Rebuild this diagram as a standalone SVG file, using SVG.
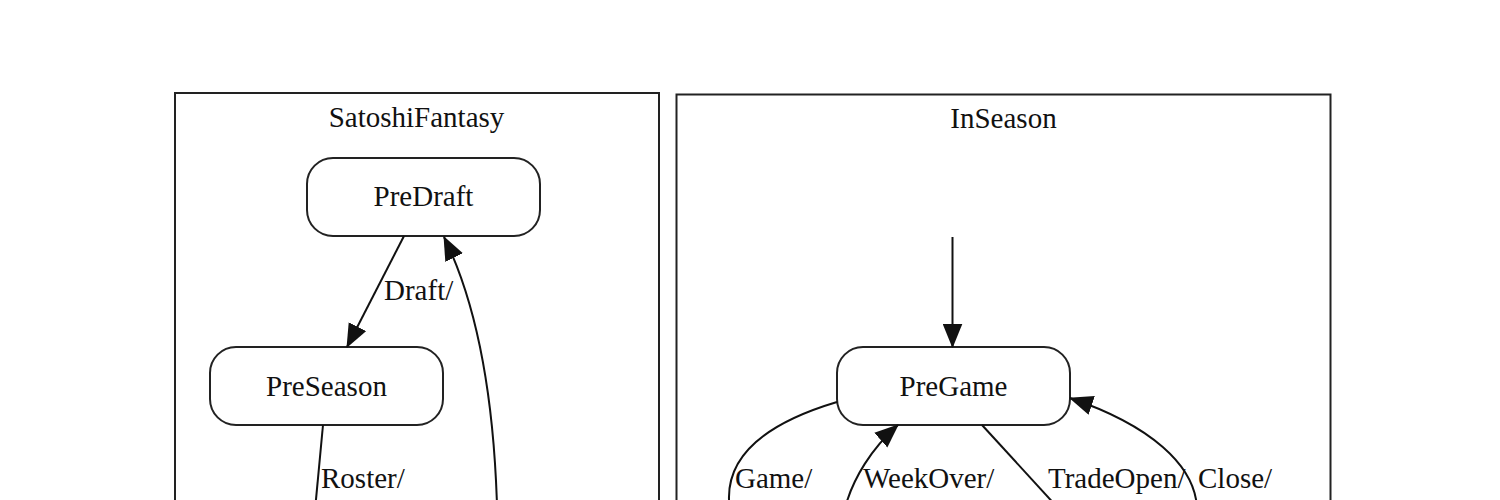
<svg xmlns="http://www.w3.org/2000/svg" width="1500" height="500" viewBox="0 0 1500 500">
<style>
.cl{fill:none;stroke:#222;stroke-width:2}
.nd{fill:#fff;stroke:#222;stroke-width:2}
.t{font-family:"Liberation Serif","Times New Roman",serif;font-size:29px;fill:#111}
.c{text-anchor:middle}
.e{fill:none;stroke:#111;stroke-width:2}
</style>
<defs>
<marker id="ah" markerUnits="userSpaceOnUse" markerWidth="24" markerHeight="20" viewBox="0 0 22 18" refX="21" refY="9" orient="auto">
<path d="M0,0 L22,9 L0,18 Z" fill="#111"/>
</marker>
</defs>
<rect width="1500" height="500" fill="#fff"/>
<g id="SatoshiFantasy">
<rect class="cl" x="175" y="93" width="484" height="460"/>
<text class="t c" x="416.5" y="127">SatoshiFantasy</text>
</g>
<g id="InSeason">
<rect class="cl" x="676.5" y="94.5" width="654" height="460"/>
<text class="t c" x="1003.5" y="128">InSeason</text>
</g>
<g id="PreDraft">
<rect class="nd" x="307" y="158" width="233" height="78" rx="26"/>
<text class="t c" x="423.5" y="206">PreDraft</text>
</g>
<g id="PreSeason">
<rect class="nd" x="210" y="347" width="233" height="78" rx="26"/>
<text class="t c" x="326.5" y="396">PreSeason</text>
</g>
<g id="PreGame">
<rect class="nd" x="837" y="347" width="233" height="78" rx="26"/>
<text class="t c" x="953.5" y="396">PreGame</text>
</g>
<g id="connectors">
<path class="e" d="M404,236 L347,347" marker-end="url(#ah)"/>
<text class="t" x="384" y="300">Draft/</text>
<path class="e" d="M323,425 L315,510"/>
<text class="t" x="321" y="488">Roster/</text>
<path class="e" d="M497,505 C494,410 480,310 444,237" marker-end="url(#ah)"/>
<path class="e" d="M952.5,237 L952.5,347" marker-end="url(#ah)"/>
<path class="e" d="M837,402 C760,425 722,460 730,510"/>
<text class="t" x="735" y="488">Game/</text>
<path class="e" d="M845,508 C853,478 872,448 898,425" marker-end="url(#ah)"/>
<text class="t" x="863" y="488">WeekOver/</text>
<path class="e" d="M982,425 L1058,508"/>
<text class="t" x="1048" y="488">TradeOpen/</text>
<path class="e" d="M1197,508 C1195,465 1150,425 1070,398" marker-end="url(#ah)"/>
<text class="t" x="1198" y="488">Close/</text>
</g>
</svg>
